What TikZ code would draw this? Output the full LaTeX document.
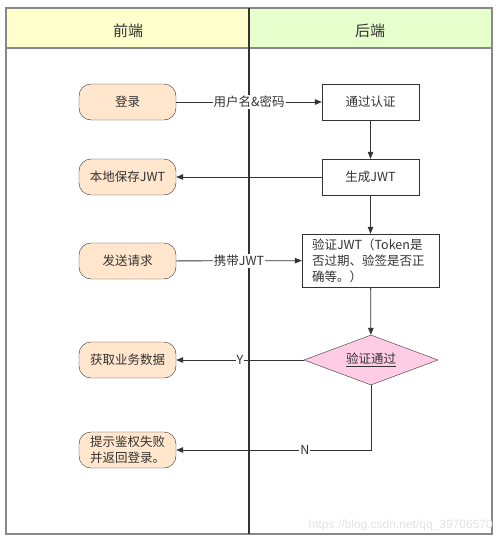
\documentclass[tikz,border=0pt]{standalone}
\usepackage{fontspec}
\setmainfont{Noto Sans CJK SC}
\newfontfamily\markfont{Liberation Sans}
\usetikzlibrary{arrows.meta,shapes.geometric}
\definecolor{lineclr}{HTML}{333333}
\definecolor{frameclr}{HTML}{888888}
\definecolor{headfront}{HTML}{FFFFCC}
\definecolor{headback}{HTML}{E6FFCC}
\definecolor{peach}{HTML}{FFE6CC}
\definecolor{rose}{HTML}{FFCCE6}
\begin{document}
\begin{tikzpicture}[x=1pt,y=-1pt,
    every node/.style={font=\fontsize{12.5}{16}\selectfont, text=lineclr},
    front/.style={draw=lineclr, fill=peach, rounded corners=12pt, minimum width=97pt, minimum height=36pt, align=left},
    back/.style={draw=lineclr, fill=white, minimum width=97pt, minimum height=36pt},
    check/.style={diamond, draw=lineclr, fill=rose, aspect=2.68, inner sep=0pt, minimum width=134pt, minimum height=50pt},
    flow/.style={draw=lineclr, thick, -{Triangle[length=7pt,width=5.5pt]}},
    lbl/.style={fill=white, inner sep=1pt}]
    \useasboundingbox (0,0) rectangle (500,541);
    % lanes
    \fill [headfront] (6,8) rectangle (249,48);
    \fill [headback] (249,8) rectangle (492,48);
    \draw [frameclr, line width=1.3pt] (6,8) rectangle (492,534);
    \draw [frameclr, line width=1.1pt] (6,48) -- (492,48);
    \draw [lineclr, line width=1.1pt] (249,8) -- (249,534);
    \node [font=\fontsize{15}{18}\selectfont] (lanefront) at (128,31) {前端};
    \node [font=\fontsize{15}{18}\selectfont] (laneback) at (370,31) {后端};
    % steps
    \node [front] (login) at (127.5,102) {登录};
    \node [back] (auth) at (370.5,102) {通过认证};
    \node [front] (store) at (127.5,177) {本地保存JWT};
    \node [back] (gen) at (370.5,177) {生成JWT};
    \node [front] (send) at (127.5,261) {发送请求};
    \node [back, text width=117pt, inner xsep=10pt, minimum height=53pt, align=left] (verify) at (370.5,260.5)
        {验证JWT（Token是\\否过期、验签是否正\\确等。）};
    \node [check] (pass) at (371,360) {\underline{验证通过}};
    \node [front] (fetch) at (127.5,360) {获取业务数据};
    \node [front] (fail) at (127.5,450) {提示鉴权失败\\并返回登录。};
    % connectors
    \draw [flow] (login) -- node [lbl] {用户名\&密码} (auth);
    \draw [flow] (auth) -- (gen);
    \draw [flow] (gen) -- (store);
    \draw [flow] (gen) -- (verify);
    \draw [flow] (send) -- node [lbl] {携带JWT} (verify);
    \draw [flow] (verify) -- (pass);
    \draw [flow] (pass) -- node [lbl] {Y} (fetch);
    \draw [flow] (pass.south) |- node [lbl, pos=0.67] {N} (fail);
    \node [font=\markfont\fontsize{12}{14}\selectfont, text=gray!22, anchor=south east, inner sep=1pt] (mark) at (494,532)
        {https://blog.csdn.net/qq\_39706570};
\end{tikzpicture}
\end{document}
